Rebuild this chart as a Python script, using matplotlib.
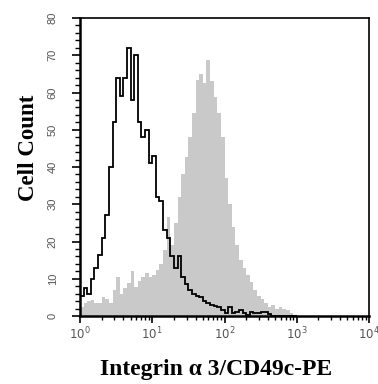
import numpy as np
import matplotlib
matplotlib.use("Agg")
import matplotlib.pyplot as plt
from matplotlib.ticker import LogLocator, MultipleLocator, FixedLocator

# Histogram values per log-decade bin (bin width 0.05 decade, starting at 10^0)
bin_width_decades = 0.05
isotype_counts = [5.5, 7.5, 6, 10, 13, 16.5, 21, 27, 40, 52,
                  64, 59, 64, 72, 58, 70, 52, 48, 50, 41,
                  43, 32, 31, 23, 21, 16, 13, 16, 10.6, 8.5,
                  7, 6, 5.5, 5, 4, 3.5, 3, 2.8, 2.5, 1.5,
                  0.7, 2.5, 0.7, 1.2, 1.6, 0.8, 0.3, 1.2, 0.8, 0.7,
                  1.0, 1.2, 0.5, 0, 0, 0, 0, 0, 0, 0]
stained_counts = [2.5, 3.4, 4, 4.3, 3.5, 3.4, 5.2, 4.5, 3.4, 7,
                  10.5, 6, 7.5, 8.8, 12, 7.9, 9.5, 10.6, 11.5, 10.6,
                  11, 12.3, 14, 17.7, 26.7, 19, 25, 32, 38, 42.8,
                  48, 54.4, 63.4, 65, 62.5, 68.7, 63, 58.9, 54.4, 48,
                  37, 30, 24, 19, 15, 13, 11, 9, 7, 5.5,
                  4.5, 3.5, 2.5, 3, 2, 2.5, 2, 1.5, 0.8, 0]
y_ticks = [0, 10, 20, 30, 40, 50, 60, 70, 80]
x_tick_exponents = [0, 1, 2, 3, 4]

n = len(stained_counts)
edges = 10 ** (np.arange(n + 1) * bin_width_decades)

fig = plt.figure(figsize=(3.78, 3.84), dpi=100)
ax = fig.add_axes([80/378, 1 - 316/384, 289/378, 298/384])

ax.stairs(stained_counts, edges, fill=True, color="#c9c9c9", linewidth=0)
ax.stairs(isotype_counts, edges, color="black", linewidth=1.3)

ax.set_xscale("log")
ax.set_xlim(10 ** x_tick_exponents[0], 10 ** x_tick_exponents[-1])
ax.set_ylim(y_ticks[0], y_ticks[-1])

ax.xaxis.set_major_locator(FixedLocator([10 ** e for e in x_tick_exponents]))
ax.xaxis.set_minor_locator(LogLocator(base=10, subs=np.arange(2, 10), numticks=20))
ax.set_xticklabels([r"$10^{%d}$" % e for e in x_tick_exponents])
ax.set_yticks(y_ticks)
ax.yaxis.set_minor_locator(MultipleLocator(2))

tick_font = {"family": "Liberation Sans", "size": 8}
for lab in ax.get_xticklabels():
    lab.set_fontfamily("Liberation Sans")
    lab.set_fontsize(8.5)
    lab.set_color("#555555")
for lab in ax.get_yticklabels():
    lab.set_fontfamily("Liberation Sans")
    lab.set_fontsize(8)
    lab.set_color("#555555")
    lab.set_rotation(90)
    lab.set_va("center")

ax.tick_params(axis="y", which="major", length=6, width=1.2, pad=10, direction="out")
ax.tick_params(axis="y", which="minor", length=3.5, width=1.0, direction="out")
ax.tick_params(axis="x", which="major", length=5, width=1.2, pad=2, direction="out")
ax.tick_params(axis="x", which="minor", length=3, width=1.0, direction="out")

for s in ax.spines.values():
    s.set_linewidth(1.2)
ax.spines["left"].set_linewidth(1.8)
ax.spines["bottom"].set_linewidth(1.8)

fig.text(28/378, 1 - 148/384, "Cell Count", rotation=90, ha="center", va="center",
         fontfamily="Liberation Serif", fontweight="bold", fontsize=16.5)
fig.text(216/378, 1 - 369/384, "Integrin \u03b1 3/CD49c-PE", ha="center", va="center",
         fontfamily="Liberation Serif", fontweight="bold", fontsize=17)

fig.savefig("out.png", dpi=100)
